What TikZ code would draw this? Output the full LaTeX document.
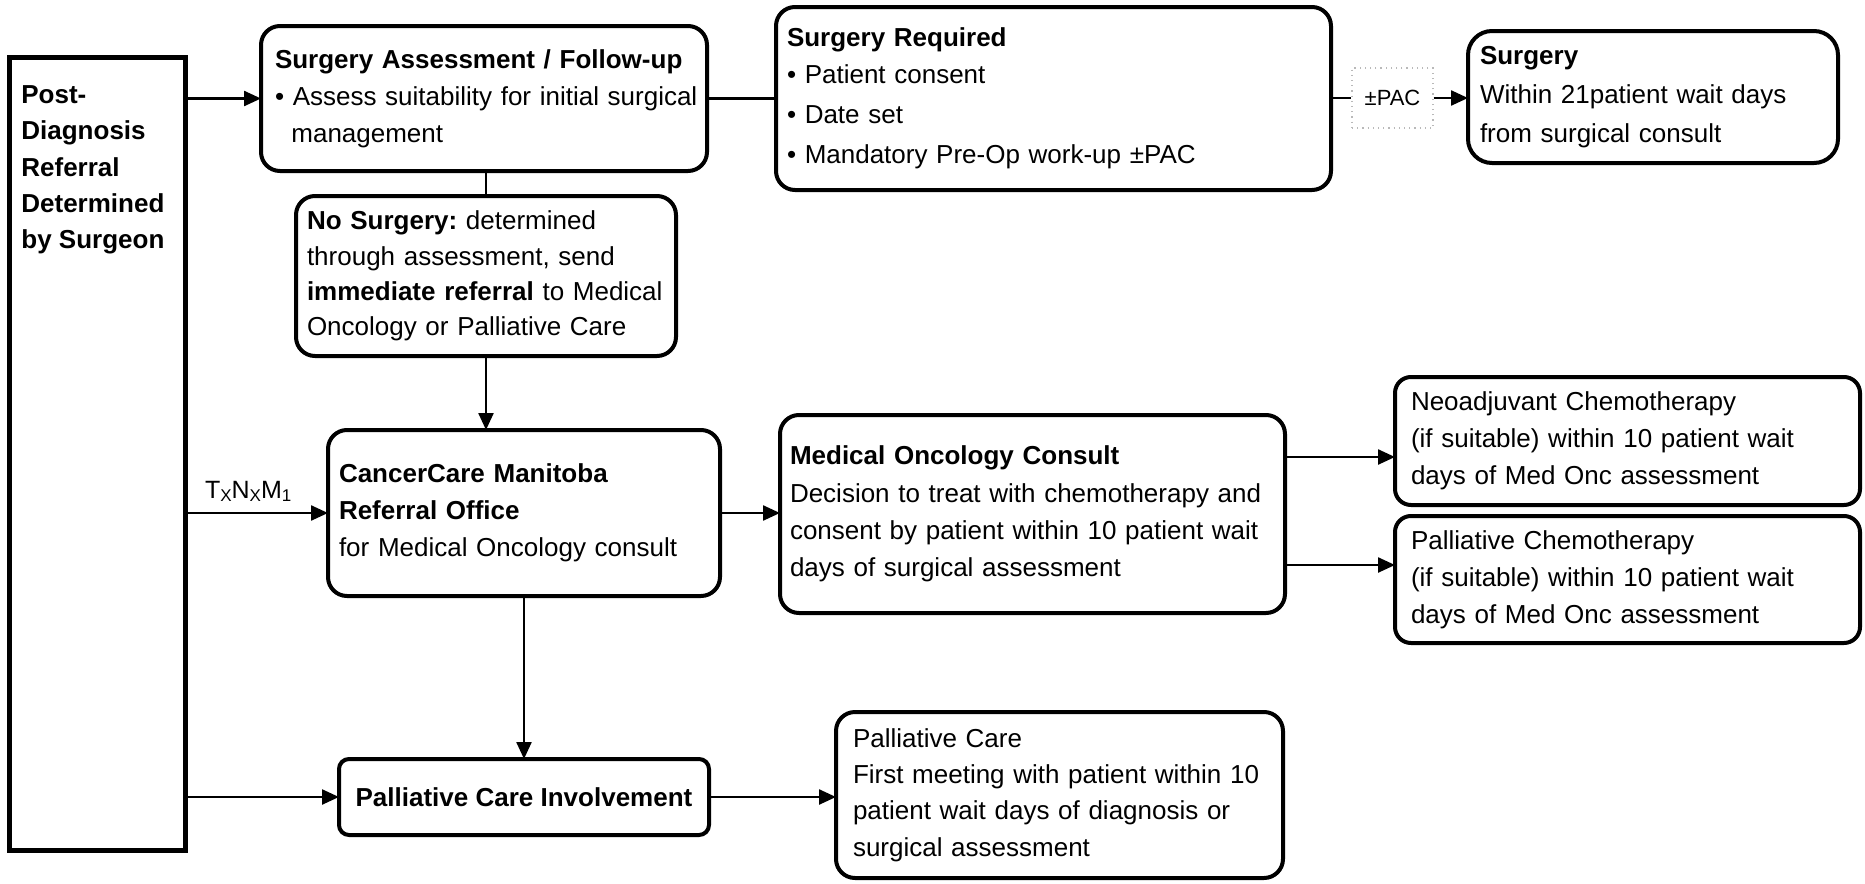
\documentclass[tikz,border=0pt]{standalone}
\usepackage{fontspec}
\setmainfont{Liberation Sans}
\usetikzlibrary{arrows.meta}
\frenchspacing
\begin{document}
\begin{tikzpicture}[x=0.5pt,y=-0.5pt,
  every node/.style={font=\fontsize{13pt}{18.4pt}\selectfont},
  box/.style={draw, line width=2pt, rounded corners=9.5pt, align=left,
    inner ysep=0pt, outer sep=0pt},
  conn/.style={line width=1.2pt},
  arr/.style={line width=1.2pt, -{Triangle[length=8.5pt,width=7.5pt]}}]
\useasboundingbox (0,0) rectangle (1865,884);

% source box on the left
\node[draw, line width=2.5pt, minimum width=88pt, minimum height=396.5pt,
  inner sep=0pt, outer sep=0pt] (src) at (97.5,454) {};
\node[anchor=north west, inner sep=0pt, align=left,
  font=\fontsize{13pt}{18.2pt}\selectfont\bfseries] (srctext) at (21,85)
  {Post-\\Diagnosis\\Referral\\Determined\\by Surgeon};

% surgical branch
\node[box, minimum width=223pt, minimum height=72.5pt, inner xsep=7pt,
  text width=209pt] (sa) at (484,98.5)
  {\mbox{\textbf{Surgery Assessment / Follow-up}}\\
   \mbox{\textbullet\ Assess suitability for initial surgical}\\
   \hspace*{8.2pt}management};
\node[box, minimum width=277.5pt, minimum height=91.5pt, inner xsep=5.5pt,
  text width=266.5pt] (sr) at (1053.5,98.5)
  {\textbf{Surgery Required}\\
   \textbullet\ Patient consent\\[1.5pt]
   \textbullet\ Date set\\[2pt]
   \mbox{\textbullet\ Mandatory Pre-Op work-up \textpm PAC}};
\node[draw=gray!55, dotted, line width=0.6pt, minimum width=40.5pt,
  minimum height=30pt, inner sep=0pt, font=\fontsize{11pt}{13pt}\selectfont]
  (pac) at (1392.5,98) {\textpm PAC};
\node[box, rounded corners=12pt, minimum width=185pt, minimum height=66pt,
  inner xsep=6pt, text width=173pt,
  font=\fontsize{13pt}{19.5pt}\selectfont] (surg) at (1653,97)
  {\textbf{Surgery}\\
   Within 21patient wait days\\
   from surgical consult};
\node[box, minimum width=190pt, minimum height=80pt, inner xsep=5.5pt,
  text width=179pt, font=\fontsize{13pt}{17.7pt}\selectfont] (ns) at (486,276)
  {\textbf{No Surgery:} determined\\
   through assessment, send\\
   \mbox{\textbf{immediate referral} to Medical}\\
   Oncology or Palliative Care};

% medical oncology branch
\node[box, minimum width=196pt, minimum height=83pt, inner xsep=5.5pt,
  text width=185pt] (ccm) at (524,513)
  {\textbf{CancerCare Manitoba}\\
   \textbf{Referral Office}\\
   for Medical Oncology consult};
\node[box, minimum width=252.5pt, minimum height=99pt, inner xsep=5pt,
  text width=242.5pt, font=\fontsize{13pt}{18.7pt}\selectfont] (moc) at (1032.5,514)
  {\textbf{Medical Oncology Consult}\\
   \mbox{Decision to treat with chemotherapy and}\\
   \mbox{consent by patient within 10 patient wait}\\
   days of surgical assessment};
\node[box, rounded corners=8pt, minimum width=232.5pt, minimum height=64pt,
  inner xsep=8pt, text width=216.5pt] (neo) at (1627.5,441)
  {Neoadjuvant Chemotherapy\\
   \mbox{(if suitable) within 10 patient wait}\\
   days of Med Onc assessment};
\node[box, rounded corners=8pt, minimum width=232.5pt, minimum height=63.5pt,
  inner xsep=8pt, text width=216.5pt] (palc) at (1627.5,579.5)
  {Palliative Chemotherapy\\
   \mbox{(if suitable) within 10 patient wait}\\
   days of Med Onc assessment};

% palliative branch
\node[box, rounded corners=5pt, minimum width=185pt, minimum height=38pt,
  align=center, inner xsep=0pt, font=\fontsize{13pt}{18.4pt}\selectfont\bfseries]
  (pci) at (524,797) {Palliative Care Involvement};
\node[box, minimum width=223.5pt, minimum height=83pt, inner xsep=8.5pt,
  text width=206.5pt, font=\fontsize{13pt}{18.2pt}\selectfont] (pc) at (1059.5,795)
  {Palliative Care\\
   \mbox{First meeting with patient within 10}\\
   patient wait days of diagnosis or\\
   surgical assessment};

% helper heights for the two chemotherapy arrows
\coordinate (yneo) at (0,457);
\coordinate (ypal) at (0,565);

% connectors
\draw[arr] (src.east |- sa.west) -- (sa.west);
\draw[conn] (sa.east) -- (sr.west);
\draw[conn] (sr.east |- pac.west) -- (pac.west);
\draw[arr] (pac.east) -- (surg.west |- pac.east);
\draw[conn] (ns.north |- sa.south) -- (ns.north);
\draw[arr] (ns.south) -- (ns.south |- ccm.north);
\draw[arr] (src.east |- ccm.west) -- node[above, pos=0.44, inner sep=0pt, yshift=5pt,
  font=\fontsize{12.5pt}{14pt}\selectfont] (tnm)
  {T\raisebox{-1.8pt}{\fontsize{8.5pt}{9pt}\selectfont X}N\raisebox{-1.8pt}{\fontsize{8.5pt}{9pt}\selectfont X}M\raisebox{-1.8pt}{\fontsize{8.5pt}{9pt}\selectfont 1}}
  (ccm.west);
\draw[arr] (ccm.east) -- (moc.west |- ccm.east);
\draw[arr] (moc.east |- yneo) -- (neo.west |- yneo);
\draw[arr] (moc.east |- ypal) -- (palc.west |- ypal);
\draw[arr] (ccm.south) -- (pci.north);
\draw[arr] (src.east |- pci.west) -- (pci.west);
\draw[arr] (pci.east) -- (pc.west |- pci.east);
\end{tikzpicture}
\end{document}
